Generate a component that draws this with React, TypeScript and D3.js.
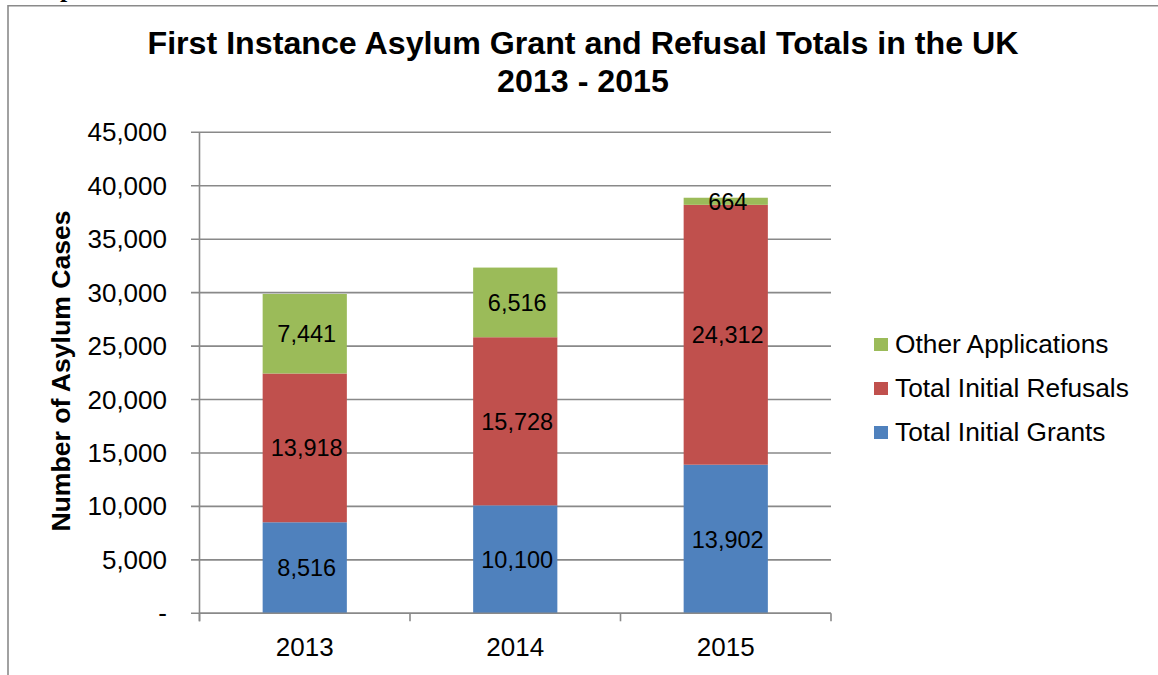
import React from "react";
import * as d3 from "d3";

const years = ["2013", "2014", "2015"];
const grants = [8516, 10100, 13902];
const refusals = [13918, 15728, 24312];
const others = [7441, 6516, 664];
const seriesKeys = ["grants", "refusals", "others"];
const seriesNames = ["Total Initial Grants", "Total Initial Refusals", "Other Applications"];
const seriesColors = ["#4F81BD", "#C0504D", "#9BBB59"];
const yTicks = [0, 5000, 10000, 15000, 20000, 25000, 30000, 35000, 40000, 45000];
const titleLines = ["First Instance Asylum Grant and Refusal Totals in the UK", "2013 - 2015"];
const yAxisTitle = "Number of Asylum Cases";

const FONT = "'Liberation Sans', Arial, sans-serif";

export default function App() {
  const W = 1158;
  const H = 675;
  const x0 = 199.5;
  const x1 = 831;
  const yBottom = 613.3;
  const yTop = 132.3;

  const table = years.map((yr, i) => ({
    year: yr,
    grants: grants[i],
    refusals: refusals[i],
    others: others[i],
  }));
  const stacked = d3.stack<any>().keys(seriesKeys)(table);

  const x = d3.scaleBand().domain(years).range([x0, x1]).paddingInner(0.6).paddingOuter(0.3);
  const y = d3.scaleLinear().domain([0, 45000]).range([yBottom, yTop]);
  const fmt = d3.format(",");
  const catEdges = [0, 1, 2, 3].map((i) => x0 + i * ((x1 - x0) / 3));

  const legendOrder = [2, 1, 0];
  const legendBaselines = [353, 397, 441];

  return (
    <svg
      width={W}
      height={H}
      style={{ position: "absolute", left: 0, top: 0, background: "#fff" }}
      fontFamily={FONT}
    >
      <rect x={0} y={0} width={W} height={H} fill="#fff" />
      {/* clipped text fragment from the surrounding document */}
      <text x={60} y={-3} fontFamily="'Liberation Serif', serif" fontWeight="bold" fontSize={26} fill="#000">
        p
      </text>
      {/* chart border */}
      <path d={`M8,${H + 5} L8,5.7 L${W + 5},5.7`} fill="none" stroke="#8a8a8a" strokeWidth={1.6} />

      {/* title */}
      {titleLines.map((t, i) => (
        <text key={i} x={583} y={54 + i * 38} textAnchor="middle" fontWeight="bold" fontSize={32.2} fill="#000">
          {t}
        </text>
      ))}

      {/* gridlines and y ticks */}
      {yTicks.map((t) => (
        <g key={t}>
          <line x1={191} x2={x1} y1={y(t)} y2={y(t)} stroke="#898989" strokeWidth={1.6} />
          <text x={167} y={y(t) + 9} textAnchor="end" fontSize={26} fill="#000">
            {t === 0 ? "-" : fmt(t)}
          </text>
        </g>
      ))}

      {/* bars */}
      {stacked.map((s, si) => (
        <g key={s.key}>
          {s.map((d, i) => (
            <rect
              key={i}
              x={x(years[i])}
              y={y(d[1])}
              width={x.bandwidth()}
              height={y(d[0]) - y(d[1])}
              fill={seriesColors[si]}
            />
          ))}
        </g>
      ))}

      {/* axes */}
      <line x1={x0} x2={x0} y1={yTop} y2={yBottom + 8} stroke="#898989" strokeWidth={1.6} />
      {catEdges.map((cx, i) => (
        <line key={i} x1={cx} x2={cx} y1={yBottom} y2={yBottom + 8} stroke="#898989" strokeWidth={1.6} />
      ))}
      <line x1={x0} x2={x1} y1={yBottom} y2={yBottom} stroke="#898989" strokeWidth={1.6} />

      {/* x labels */}
      {years.map((yr) => (
        <text key={yr} x={(x(yr) as number) + x.bandwidth() / 2} y={656} textAnchor="middle" fontSize={26} fill="#000">
          {yr}
        </text>
      ))}

      {/* data labels */}
      {stacked.map((s) => (
        <g key={"l" + s.key}>
          {s.map((d, i) => (
            <text
              key={i}
              x={(x(years[i]) as number) + x.bandwidth() / 2 + 2}
              y={y((d[0] + d[1]) / 2) + 8.5}
              textAnchor="middle"
              fontSize={23.5}
              fill="#000"
            >
              {fmt(d[1] - d[0])}
            </text>
          ))}
        </g>
      ))}

      {/* y axis title */}
      <text
        transform={`translate(70,371) rotate(-90)`}
        textAnchor="middle"
        fontWeight="bold"
        fontSize={26.6}
        fill="#000"
      >
        {yAxisTitle}
      </text>

      {/* legend */}
      {legendOrder.map((si, r) => (
        <g key={si}>
          <rect x={874} y={legendBaselines[r] - 15} width={14} height={13} fill={seriesColors[si]} />
          <text x={895} y={legendBaselines[r]} fontSize={26.3} fill="#000">
            {seriesNames[si]}
          </text>
        </g>
      ))}
    </svg>
  );
}
